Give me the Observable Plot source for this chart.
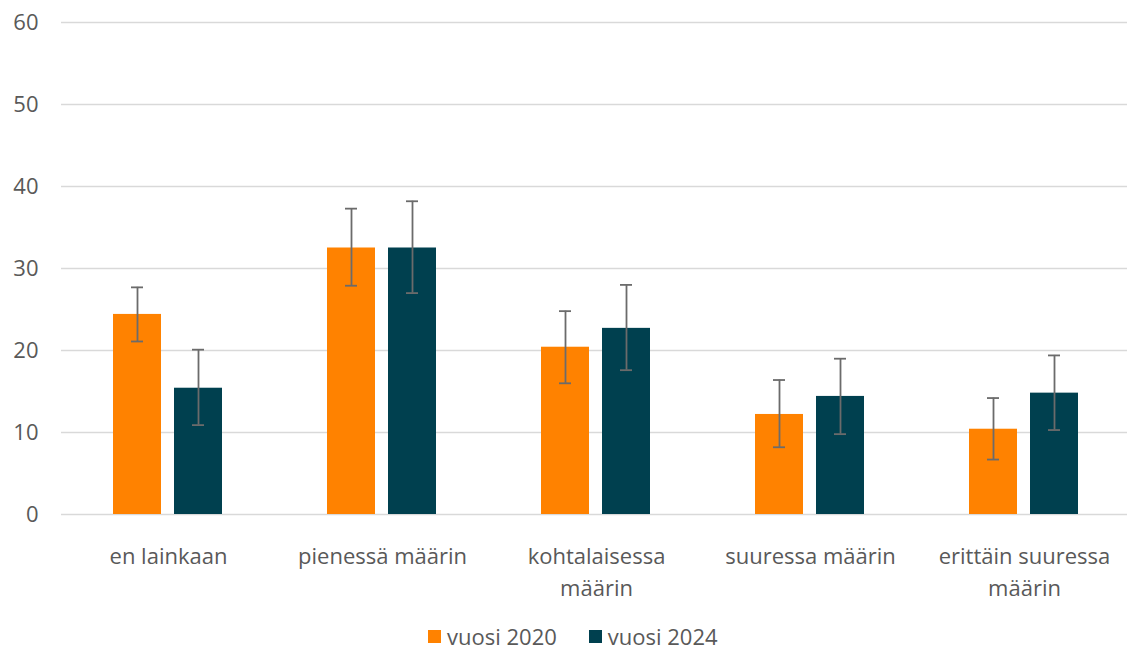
<!DOCTYPE html>
<html>
<head>
<meta charset="utf-8">
<script src="https://cdn.jsdelivr.net/npm/d3@7"></script>
<script src="https://cdn.jsdelivr.net/npm/@observablehq/plot@0.6"></script>
<style>
  html, body { margin: 0; background: white; font-family: "Open Sans", sans-serif; overflow: hidden; }
  #chart svg { display: block; }
  #legend { display: flex; align-items: center; padding-left: 428px; padding-top: 20px; height: 20px; line-height: 20px; font-size: 22px; color: #595959; }
  .sw { display: inline-block; width: 13px; height: 13px; margin-right: 6px; }
  .item { display: flex; align-items: center; margin-right: 32px; }
</style>
</head>
<body>
<div id="chart"></div>
<div id="legend"></div>
<script>
const categories = ["en lainkaan", "pienessä määrin", "kohtalaisessa määrin", "suuressa määrin", "erittäin suuressa määrin"];
const tickLabels = ["en lainkaan", "pienessä määrin", "kohtalaisessa\nmäärin", "suuressa määrin", "erittäin suuressa\nmäärin"];
const series = ["vuosi 2020", "vuosi 2024"];
const colors = ["#ff8200", "#00404f"];
const values2020 = [24.4, 32.5, 20.4, 12.2, 10.4];
const low2020 = [21.1, 27.9, 16.0, 8.2, 6.7];
const high2020 = [27.7, 37.3, 24.8, 16.4, 14.2];
const values2024 = [15.4, 32.5, 22.7, 14.4, 14.8];
const low2024 = [10.9, 27.0, 17.6, 9.8, 10.3];
const high2024 = [20.1, 38.2, 28.0, 19.0, 19.4];
const yTicks = [0, 10, 20, 30, 40, 50, 60];

const data = [];
categories.forEach((c, i) => {
  data.push({category: c, series: series[0], value: values2020[i], low: low2020[i], high: high2020[i]});
  data.push({category: c, series: series[1], value: values2024[i], low: low2024[i], high: high2024[i]});
});
const labelOf = new Map(categories.map((c, i) => [c, tickLabels[i]]));

const errStyle = {stroke: "#6b6b6b", strokeWidth: 1.8};
const chart = Plot.plot({
  width: 1127,
  height: 606,
  marginLeft: 60,
  marginRight: -4,
  marginTop: 22,
  marginBottom: 92,
  style: {fontFamily: "'Open Sans', sans-serif", fontSize: "22px", color: "#595959", background: "white", overflow: "visible"},
  fx: {domain: categories, padding: 0, label: null, axis: null},
  x: {domain: series, paddingInner: 0.213, paddingOuter: 0.855, axis: null},
  y: {domain: [0, 60], axis: null},
  color: {domain: series, range: colors},
  marks: [
    Plot.ruleY(yTicks, {stroke: "#d9d9d9", strokeWidth: 1.5}),
    Plot.axisY(yTicks, {tickSize: 0, tickPadding: 23, fontSize: 22, label: null, fill: "#595959"}),
    Plot.axisFx({anchor: "bottom", tickSize: 0, tickPadding: 27, fontSize: 22, lineHeight: 1.45, label: null, fill: "#595959", tickFormat: d => labelOf.get(d)}),
    Plot.barY(data, {fx: "category", x: "series", y: "value", fill: "series"}),
    Plot.ruleX(data, {fx: "category", x: "series", y1: "low", y2: "high", ...errStyle}),
    Plot.tickY(data, {fx: "category", x: "series", y: "low", insetLeft: 18, insetRight: 18, ...errStyle}),
    Plot.tickY(data, {fx: "category", x: "series", y: "high", insetLeft: 18, insetRight: 18, ...errStyle})
  ]
});
document.getElementById("chart").append(chart);

const legend = document.getElementById("legend");
series.forEach((s, i) => {
  const item = document.createElement("div");
  item.className = "item";
  const sw = document.createElement("span");
  sw.className = "sw";
  sw.style.background = colors[i];
  item.append(sw, document.createTextNode(s));
  legend.append(item);
});
</script>
</body>
</html>
